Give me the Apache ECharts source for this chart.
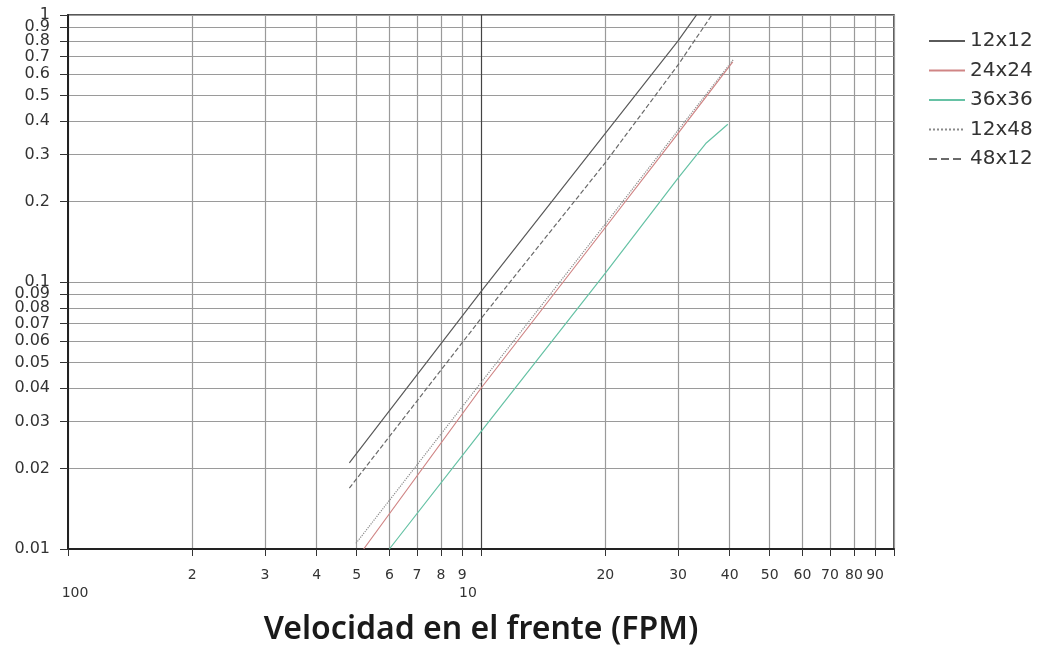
<!DOCTYPE html>
<html>
<head>
<meta charset="utf-8">
<script src="https://cdn.jsdelivr.net/npm/echarts@6/dist/echarts.min.js"></script>
<style>
  html, body { margin: 0; padding: 0; background: #fff; }
  #chart { width: 1044px; height: 651px; }
</style>
</head>
<body>
<div id="chart"></div>
<script>
// grid values on the log axes
const xTicks = [1, 2, 3, 4, 5, 6, 7, 8, 9, 10, 20, 30, 40, 50, 60, 70, 80, 90, 100];
const xLabelValues = [1, 2, 3, 4, 5, 6, 7, 8, 9, 10, 20, 30, 40, 50, 60, 70, 80, 90];
const yTicks = [0.01, 0.02, 0.03, 0.04, 0.05, 0.06, 0.07, 0.08, 0.09,
                0.1, 0.2, 0.3, 0.4, 0.5, 0.6, 0.7, 0.8, 0.9, 1];
// y labels split over two stacked copies of the axis, so the
// tightly packed ones are not dropped as overlapping
const yLabelsA = [0.01, 0.03, 0.05, 0.07, 0.09, 0.2, 0.4, 0.6, 0.8, 1];
const yLabelsB = [0.02, 0.04, 0.06, 0.08, 0.1, 0.3, 0.5, 0.7, 0.9];

const names = ['12x12', '24x24', '36x36', '12x48', '48x12'];

// [velocity, value]
const d12x12 = [[4.8, 0.021], [10, 0.092], [20, 0.36], [30, 0.8], [34, 1.05]];
const d24x24 = [[5.2, 0.01], [10, 0.04], [20, 0.16], [30, 0.36], [40.7, 0.667]];
const d36x36 = [[6, 0.01], [10, 0.0275], [20, 0.108], [30, 0.245], [35, 0.33], [39.6, 0.39]];
const d12x48 = [[4.98, 0.0105], [10, 0.042], [20, 0.165], [30, 0.37], [40.8, 0.68]];
const d48x12 = [[4.8, 0.0169], [10, 0.073], [20, 0.28], [30, 0.65], [37, 1.05]];

const chart = echarts.init(document.getElementById('chart'));

const fmt = v => String(Number(v.toPrecision(6)));

// darker vertical line at 10
const xSplitColors = xTicks.map(v => v === 10 ? '#444' : '#9a9a9a');

const yLabel = values => ({
  customValues: values,
  showMinLabel: true, showMaxLabel: true,
  fontSize: 16, color: '#333', fontFamily: 'DejaVu Sans', margin: 18,
  formatter: v => fmt(v)
});

const mkLine = (name, data, color, type) => ({
  name: name,
  type: 'line',
  data: data,
  symbol: 'none',
  clip: true,
  lineStyle: { color: color, width: 1.2, type: type },
  itemStyle: { color: color }
});

chart.setOption({
  animation: false,
  grid: {
    left: 68, right: 150, top: 15, bottom: 102,
    show: true, borderColor: '#222', borderWidth: 1.5
  },
  legend: {
    orient: 'vertical',
    left: 923, top: 26,
    itemWidth: 36, itemHeight: 10, itemGap: 9.5,
    itemStyle: { opacity: 0 },
    textStyle: { fontSize: 20, lineHeight: 20, color: '#333', fontFamily: 'DejaVu Sans' },
    data: names
  },
  xAxis: {
    type: 'log',
    min: 1, max: 100,
    name: 'Velocidad en el frente (FPM)',
    nameLocation: 'middle',
    nameGap: 65,
    nameTextStyle: { fontSize: 32, fontWeight: 600, color: '#1a1a1a', fontFamily: 'Noto Sans' },
    axisLine: { lineStyle: { color: '#222', width: 2 } },
    axisTick: { customValues: xTicks, length: 7, lineStyle: { color: '#333' } },
    axisLabel: {
      customValues: xLabelValues,
      fontSize: 14, color: '#333', fontFamily: 'DejaVu Sans',
      lineHeight: 18, margin: 17,
      formatter: v => (v === 1 ? '{a|\n100}' : v === 10 ? '{b|\n10}' : fmt(v)),
      rich: {
        a: { fontSize: 14, color: '#333', fontFamily: 'DejaVu Sans', lineHeight: 18, padding: [0, 0, 0, 14] },
        b: { fontSize: 14, color: '#333', fontFamily: 'DejaVu Sans', lineHeight: 18, padding: [0, 26, 0, 0] }
      }
    },
    splitLine: { show: true, lineStyle: { color: xSplitColors, width: 1.2 } }
  },
  yAxis: [
    {
      type: 'log',
      min: 0.01, max: 1,
      axisLine: { lineStyle: { color: '#222', width: 2 } },
      axisTick: { customValues: yTicks, length: 8, lineStyle: { color: '#333' } },
      axisLabel: yLabel(yLabelsA),
      splitLine: { show: true, lineStyle: { color: '#9a9a9a', width: 1.2 } }
    },
    {
      type: 'log',
      min: 0.01, max: 1,
      position: 'left',
      axisLine: { show: false },
      axisTick: { show: false },
      splitLine: { show: false },
      axisLabel: yLabel(yLabelsB)
    }
  ],
  series: [
    mkLine('12x12', d12x12, '#5a5a5a', 'solid'),
    mkLine('24x24', d24x24, '#d08585', 'solid'),
    mkLine('36x36', d36x36, '#66c2a5', 'solid'),
    mkLine('12x48', d12x48, '#8a8a8a', 'dotted'),
    mkLine('48x12', d48x12, '#6a6a6a', 'dashed')
  ]
});
</script>
</body>
</html>
